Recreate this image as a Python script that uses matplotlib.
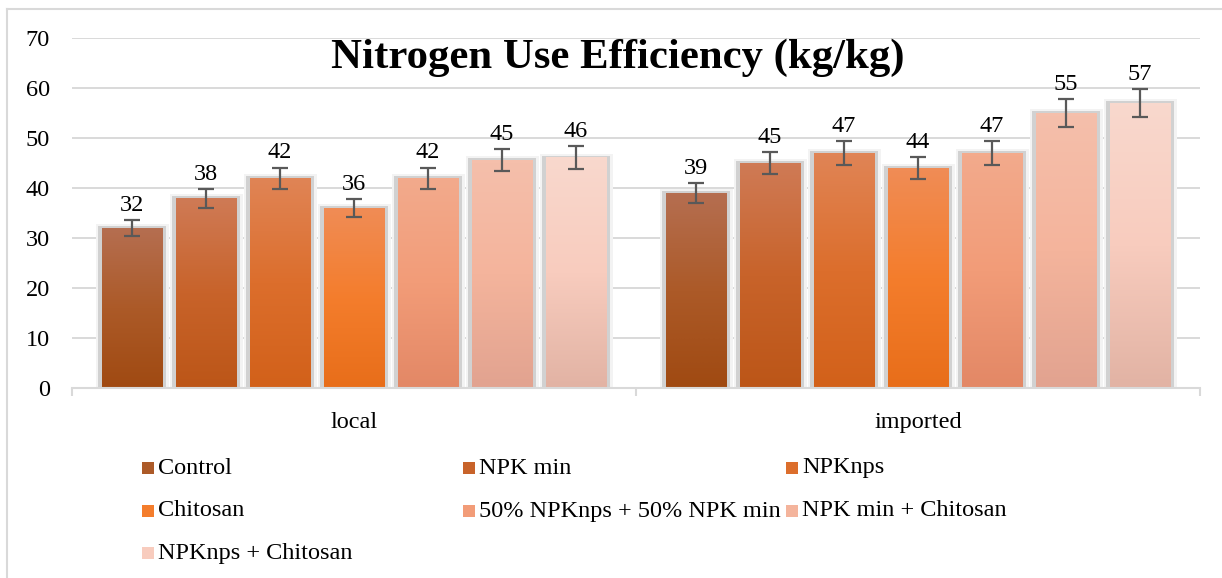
import matplotlib
matplotlib.use('Agg')
import matplotlib.pyplot as plt
import numpy as np
from matplotlib.colors import LinearSegmentedColormap
from matplotlib.patches import Rectangle
from matplotlib.lines import Line2D

categories = ['local', 'imported']
treatments = ['Control', 'NPK min', 'NPKnps', 'Chitosan',
              '50% NPKnps + 50% NPK min', 'NPK min + Chitosan', 'NPKnps + Chitosan']
local_vals = [32, 38, 42, 36, 42, 45.6, 46.1]
imported_vals = [39, 45, 47, 44, 47, 55, 57]
local_labels = ['32', '38', '42', '36', '42', '45', '46']
imported_labels = ['39', '45', '47', '44', '47', '55', '57']
local_err = [1.6, 1.9, 2.1, 1.8, 2.1, 2.3, 2.3]
imported_err = [1.95, 2.25, 2.35, 2.2, 2.35, 2.75, 2.85]
yticks = [0, 10, 20, 30, 40, 50, 60, 70]

# top, middle, bottom colours of each series gradient
grad_colors = [
    ('#B56E50', '#AC5A28', '#A04A12'),
    ('#CF7A55', '#C8632A', '#BC5618'),
    ('#E08455', '#DC6E2C', '#D2611A'),
    ('#F08C55', '#F47D2C', '#E86E1A'),
    ('#F3AA8C', '#F29C78', '#E38866'),
    ('#F5BFAB', '#F4B49C', '#E2A390'),
    ('#F8D8CD', '#F8CCBE', '#E2B3A4'),
]

W, H = 1222, 578
fig = plt.figure(figsize=(W / 100, H / 100), dpi=100)
serif = ['Liberation Serif', 'DejaVu Serif']
plt.rcParams['font.family'] = serif
FS = 17.5

ax_l, ax_r, ax_b, ax_t = 72, 1200, 388, 38
ax = fig.add_axes([ax_l / W, 1 - ax_b / H, (ax_r - ax_l) / W, (ax_b - ax_t) / H])

px_x = 2.0 / (ax_r - ax_l)   # data units per pixel in x
px_y = 70.0 / (ax_b - ax_t)  # data units per pixel in y
pitch = 74 * px_x
width = 61 * px_x

series = [local_vals, imported_vals]
errs = [local_err, imported_err]
labs = [local_labels, imported_labels]

for ci in range(len(categories)):
    for si in range(len(treatments)):
        v = series[ci][si]
        xc = ci + (si - 3) * pitch
        x0 = xc - width / 2
        # soft shadow
        ax.add_patch(Rectangle((x0 - 6 * px_x, 0), width + 12 * px_x, v + 4 * px_y,
                               facecolor='#F3F3F3', edgecolor='none', zorder=1.5))
        ax.add_patch(Rectangle((x0 - 3.5 * px_x, 0), width + 7 * px_x, v + 2 * px_y,
                               facecolor='#C9C9C9', edgecolor='none', alpha=0.8, zorder=1.6))
        cmap = LinearSegmentedColormap.from_list('g%d' % si, [grad_colors[si][2],
                                                               grad_colors[si][1],
                                                               grad_colors[si][0]])
        grad = np.linspace(0, 1, 64).reshape(-1, 1)
        ax.imshow(grad, extent=[x0, x0 + width, 0, v], origin='lower', aspect='auto',
                  cmap=cmap, interpolation='bilinear', zorder=2)
        ax.errorbar(xc, v, yerr=errs[ci][si], fmt='none', ecolor='#595959',
                    elinewidth=1.6, capsize=5.5, capthick=1.6, zorder=3)
        ax.text(xc, v + errs[ci][si] + 4 * px_y, labs[ci][si], ha='center', va='bottom',
                fontsize=FS, color='#000000', zorder=4)

ax.set_xlim(-0.5, 1.5)
ax.set_ylim(0, 70)
ax.set_yticks(yticks)
ax.set_yticklabels([str(t) for t in yticks], fontsize=FS)
ax.set_xticks([0, 1])
ax.set_xticklabels(categories, fontsize=FS)
ax.set_xticks([-0.5, 0.5, 1.5], minor=True)
ax.tick_params(axis='x', which='major', length=0, pad=17)
ax.tick_params(axis='x', which='minor', length=6, color='#D9D9D9', width=1.5)
ax.tick_params(axis='y', length=0, pad=16)
ax.grid(axis='y', color='#D9D9D9', linewidth=1.4, zorder=0)
ax.set_axisbelow(True)
for s in ['top', 'right', 'left']:
    ax.spines[s].set_visible(False)
ax.spines['bottom'].set_color('#D9D9D9')
ax.spines['bottom'].set_linewidth(1.5)

fig.text(618 / W, 1 - 58 / H, 'Nitrogen Use Efficiency (kg/kg)', ha='center', va='center',
         fontsize=30.8, fontweight='bold', family=serif)

# legend (3 columns, Excel style)
col_x = [142, 463, 786]
row_y = [468, 511, 553]
for i, name in enumerate(treatments):
    r, c = divmod(i, 3)
    mx, my = col_x[c], row_y[r]
    fig.patches.append(Rectangle((mx / W, 1 - (my + 6) / H), 12 / W, 12 / H,
                                 transform=fig.transFigure, facecolor=grad_colors[i][1],
                                 edgecolor='none'))
    fig.text((mx + 16) / W, 1 - my / H, name, ha='left', va='center', fontsize=FS)

# outer border
fig.add_artist(Line2D([7 / W, 7 / W], [0, 1 - 9 / H], color='#D9D9D9', lw=1.5,
                      transform=fig.transFigure))
fig.add_artist(Line2D([7 / W, 1], [1 - 9 / H, 1 - 9 / H], color='#D9D9D9', lw=1.5,
                      transform=fig.transFigure))

fig.savefig('out.png', dpi=100)
